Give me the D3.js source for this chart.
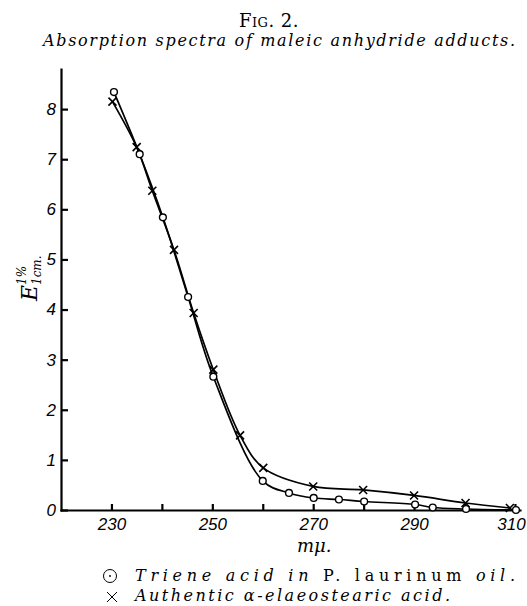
<!DOCTYPE html>
<meta charset="utf-8">
<head>
<style>
body { margin: 0; background: #fff; }
svg { display: block; background: #fff; }
.axis path, .axis line { stroke: #000; stroke-width: 2.2; }
.axis text { font: italic 17px "Liberation Sans", sans-serif; fill: #000; }
.curve { fill: none; stroke: #000; stroke-width: 1.7; }
.serif { font-family: "DejaVu Serif", "Liberation Serif", serif; fill: #000; }
</style>
</head>
<body>
<svg width="527" height="606"></svg>
<script src="https://d3js.org/d3.v7.min.js"></script>
<script>

// triene acid in P. laurinum oil (circles)
var trieneWave = [230.5, 235.6, 240.2, 245.2, 250.2, 260.0, 265.2, 270.1, 275.1, 280.1, 290.2, 293.7, 300.3, 310.2];
var trieneE    = [8.34, 7.10, 5.84, 4.25, 2.66, 0.58, 0.34, 0.24, 0.21, 0.17, 0.11, 0.05, 0.02, 0.00];

// authentic alpha-elaeostearic acid (crosses)
var eleoWave = [230.2, 235.0, 238.1, 242.4, 246.3, 250.2, 255.5, 260.1, 270.0, 279.9, 290.0, 300.2, 309.0];
var eleoE    = [8.15, 7.24, 6.37, 5.19, 3.93, 2.80, 1.49, 0.84, 0.47, 0.40, 0.29, 0.14, 0.04];

var xTicks = [230, 240, 250, 260, 270, 280, 290, 300, 310];
var xLabels = [230, 250, 270, 290, 310];
var yTicks = [0, 1, 2, 3, 4, 5, 6, 7, 8];

var svg = d3.select("svg");

var x = d3.scaleLinear().domain([220, 311]).range([61, 520]);
var y = d3.scaleLinear().domain([0, 8.8]).range([510, 69]);

function pairs(xs, ys) {
  return xs.map(function(d, i) { return [d, ys[i]]; });
}
var triene = pairs(trieneWave, trieneE);
var eleo = pairs(eleoWave, eleoE);

// axes
var gx = svg.append("g")
    .attr("class", "axis")
    .attr("transform", "translate(0," + y(0) + ")")
    .call(d3.axisBottom(x)
        .tickValues(xTicks)
        .tickSize(-6)
        .tickSizeOuter(0)
        .tickPadding(8)
        .tickFormat(function(d) { return xLabels.indexOf(d) >= 0 ? d : ""; }));

// last label sits against the page edge
gx.selectAll(".tick text").filter(function(d) { return d === 310; }).attr("dx", "-4");

svg.append("g")
    .attr("class", "axis")
    .attr("transform", "translate(" + x(220) + ",0)")
    .call(d3.axisLeft(y)
        .tickValues(yTicks)
        .tickSize(-7)
        .tickSizeOuter(0)
        .tickPadding(5));

svg.selectAll(".axis .domain").attr("stroke-linecap", "square");

// curves
var line = d3.line()
    .x(function(d) { return x(d[0]); })
    .y(function(d) { return y(d[1]); })
    .curve(d3.curveCatmullRom.alpha(0.5));

svg.append("path").attr("class", "curve").attr("d", line(eleo));
svg.append("path").attr("class", "curve").attr("d", line(triene));

// markers
svg.selectAll(".cross")
    .data(eleo)
  .enter().append("path")
    .attr("class", "cross")
    .attr("transform", function(d) { return "translate(" + x(d[0]) + "," + y(d[1]) + ")"; })
    .attr("d", "M-4,-4L4,4M-4,4L4,-4")
    .attr("stroke", "#000")
    .attr("stroke-width", 1.6);

svg.selectAll(".ring")
    .data(triene)
  .enter().append("circle")
    .attr("class", "ring")
    .attr("cx", function(d) { return x(d[0]); })
    .attr("cy", function(d) { return y(d[1]); })
    .attr("r", 3.4)
    .attr("fill", "#fff")
    .attr("stroke", "#000")
    .attr("stroke-width", 1.4);

// titles
svg.append("text")
    .attr("class", "serif")
    .attr("x", 269).attr("y", 27)
    .attr("text-anchor", "middle")
    .style("font-size", "18px")
    .style("font-variant", "small-caps")
    .style("letter-spacing", "0.5px")
    .text("Fig. 2.");

svg.append("text")
    .attr("class", "serif")
    .attr("x", 43).attr("y", 46)
    .attr("textLength", 472)
    .attr("lengthAdjust", "spacing")
    .style("font-size", "16px")
    .style("font-style", "italic")
    .text("Absorption spectra of maleic anhydride adducts.");

// y label E 1% 1cm.
var yl = svg.append("g").attr("transform", "translate(37,0) rotate(-90)");
yl.append("text").attr("class", "serif")
    .attr("x", -301).attr("y", 0)
    .style("font-size", "22px").style("font-style", "italic")
    .text("E");
yl.append("text").attr("class", "serif")
    .attr("x", -285).attr("y", -11)
    .style("font-size", "12px").style("font-style", "italic")
    .text("1%");
yl.append("text").attr("class", "serif")
    .attr("x", -285).attr("y", 4)
    .style("font-size", "12px").style("font-style", "italic")
    .text("1cm.");

// x label
svg.append("text").attr("class", "serif")
    .attr("x", 297).attr("y", 552)
    .style("font-size", "18px").style("font-style", "italic")
    .text("mμ.");

// legend
svg.append("circle")
    .attr("cx", 110).attr("cy", 576).attr("r", 6.5)
    .attr("fill", "none").attr("stroke", "#000").attr("stroke-width", 1);
svg.append("circle")
    .attr("cx", 110).attr("cy", 576).attr("r", 0.9).attr("fill", "#000");
svg.append("path")
    .attr("d", "M107,592L117,602M107,602L117,592")
    .attr("stroke", "#000").attr("stroke-width", 1);

var l1 = svg.append("text").attr("class", "serif")
    .attr("x", 135).attr("y", 581)
    .attr("textLength", 380).attr("lengthAdjust", "spacing")
    .style("font-size", "16px");
l1.append("tspan").style("font-style", "italic").text("Triene acid in ");
l1.append("tspan").text("P. laurinum ");
l1.append("tspan").style("font-style", "italic").text("oil.");

svg.append("text").attr("class", "serif")
    .attr("x", 135).attr("y", 601)
    .attr("textLength", 315).attr("lengthAdjust", "spacing")
    .style("font-size", "16px").style("font-style", "italic")
    .text("Authentic α-elaeostearic acid.");

</script>
</body>
</html>
